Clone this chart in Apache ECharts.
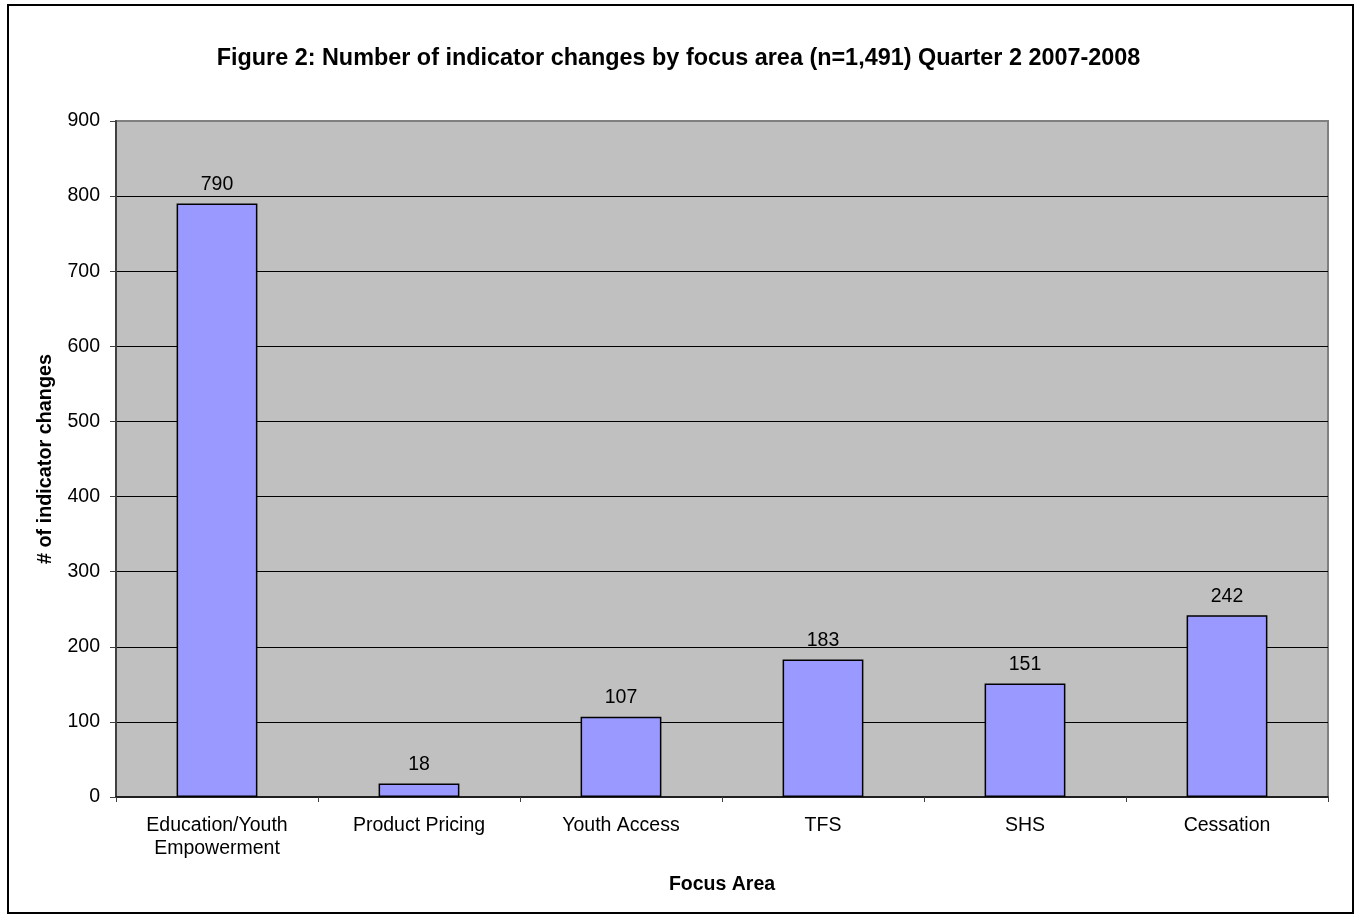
<!DOCTYPE html>
<html lang="en">
  <head>
    <meta charset="UTF-8" />
    <title>Figure 2</title>
    <script src="https://cdn.jsdelivr.net/npm/echarts@6.0.0/dist/echarts.min.js"></script>
    <style>
      body { margin: 0; background: #fff; }
    </style>
  </head>
  <body>
    <div id="main" style="width: 1357px; height: 917px"></div>
    <script type="text/javascript">
      const categories = [
        'Education/Youth\nEmpowerment',
        'Product Pricing',
        'Youth Access',
        'TFS',
        'SHS',
        'Cessation',
      ];
      const changes = [790, 18, 107, 183, 151, 242];
      const yTicks = [0, 100, 200, 300, 400, 500, 600, 700, 800, 900];

      const chart = echarts.init(document.getElementById('main'));
      const font = 'Arial, "Liberation Sans", sans-serif';

      const option = {
        animation: false,
        textStyle: { fontFamily: font },
        title: {
          text: 'Figure 2: Number of indicator changes by focus area (n=1,491) Quarter 2 2007-2008',
          left: 'center',
          top: 42,
          textStyle: { fontSize: 23.4, fontWeight: 'bold', color: '#000', fontFamily: font },
        },
        graphic: [
          {
            type: 'rect',
            shape: { x: 8, y: 5, width: 1345, height: 908 },
            style: { fill: 'none', stroke: '#000', lineWidth: 2 },
            silent: true,
          },
        ],
        grid: {
          left: 116,
          right: 29,
          top: 121,
          bottom: 120,
          show: true,
          backgroundColor: '#c0c0c0',
          borderColor: '#808080',
          borderWidth: 2,
        },
        xAxis: {
          type: 'category',
          data: categories,
          name: 'Focus Area',
          nameLocation: 'middle',
          nameGap: 78,
          nameTextStyle: { fontSize: 19.5, fontWeight: 'bold', color: '#000' },
          axisLine: { lineStyle: { color: '#000', width: 1.5 } },
          axisTick: { show: true, alignWithLabel: false, length: 5, lineStyle: { color: '#404040' } },
          axisLabel: { fontSize: 19.5, color: '#000', margin: 17, lineHeight: 23, interval: 0 },
        },
        yAxis: {
          type: 'value',
          min: 0,
          max: yTicks[yTicks.length - 1],
          interval: yTicks[1] - yTicks[0],
          name: '# of indicator changes',
          nameLocation: 'middle',
          nameGap: 60,
          nameTextStyle: { fontSize: 19.8, fontWeight: 'bold', color: '#000' },
          axisLine: { show: true, lineStyle: { color: '#404040', width: 2 } },
          axisTick: { show: true, length: 6, lineStyle: { color: '#404040' } },
          axisLabel: { fontSize: 19.5, color: '#000', margin: 16 },
          splitLine: { showMaxLine: false, showMinLine: false, lineStyle: { color: '#000', width: 1 } },
        },
        series: [
          {
            name: 'changes',
            type: 'bar',
            data: changes,
            barWidth: '40%',
            itemStyle: { color: '#9999ff', borderColor: '#000', borderWidth: 1.5 },
            label: {
              show: true,
              position: 'top',
              distance: 9,
              fontSize: 19.5,
              color: '#000',
            },
          },
        ],
      };

      chart.setOption(option);
    </script>
  </body>
</html>
